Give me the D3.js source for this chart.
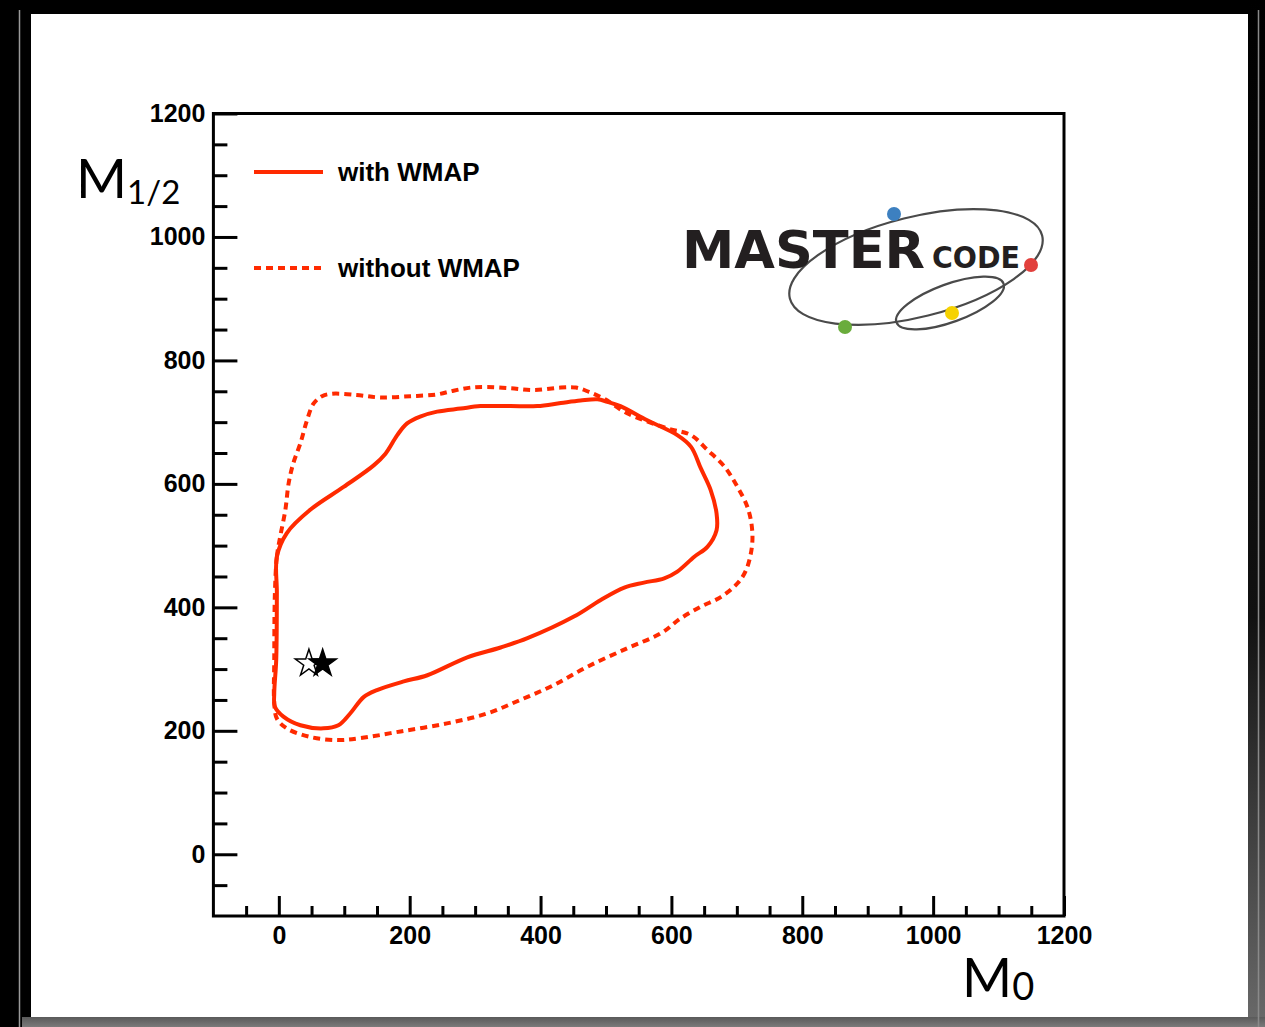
<!DOCTYPE html>
<html>
<head>
<meta charset="utf-8">
<script src="https://cdn.jsdelivr.net/npm/d3@7"></script>
<style>
  html, body { margin: 0; padding: 0; background: #000; }
  svg { display: block; }
</style>
</head>
<body>
<div id="chart"></div>
<script>
// contour with WMAP (M0, M1/2)
var withWmapM0  = [-3, -3, 12, 48, 99, 145, 163, 181, 196, 216, 242, 278, 308, 354, 395, 431, 461, 487, 502, 522, 563, 609, 630, 645, 660, 669, 669, 655, 635, 609, 589, 558, 528, 492, 451, 380, 339, 288, 227, 191, 150, 130, 109, 91, 68, 33, 7, -6, -7, -4];
var withWmapM12 = [423, 482, 520, 558, 595, 630, 649, 679, 698, 709, 717, 722, 726, 726, 726, 731, 735, 737, 733, 726, 703, 679, 660, 625, 590, 552, 525, 498, 482, 458, 447, 440, 432, 412, 385, 350, 335, 319, 290, 280, 266, 255, 228, 209, 204, 209, 223, 239, 261, 315];

// contour without WMAP
var noWmapM0  = [-6, -3, 2, 10, 15, 22, 33, 43, 53, 66, 81, 119, 155, 201, 242, 267, 293, 318, 354, 390, 431, 454, 474, 497, 533, 594, 630, 655, 681, 701, 716, 723, 723, 714, 701, 676, 645, 614, 584, 533, 472, 420, 369, 318, 257, 186, 124, 89, 48, 12, -3, -7, -7];
var noWmapM12 = [423, 482, 514, 558, 601, 633, 666, 703, 730, 742, 746, 744, 740, 742, 745, 751, 756, 757, 755, 752, 756, 756, 749, 738, 714, 690, 679, 655, 628, 595, 563, 530, 498, 460, 439, 417, 401, 382, 358, 334, 304, 274, 250, 228, 212, 199, 188, 185, 190, 204, 220, 245, 315];

// best-fit points
var bestFitM0 = [46, 67];
var bestFitM12 = [309, 309];
var bestFitFilled = [false, true];

var majorTicks = [0, 200, 400, 600, 800, 1000, 1200];
var legendLabels = ['with WMAP', 'without WMAP'];

var W = 1265, H = 1027;
var red = '#ff2a00';

var svg = d3.select('#chart').append('svg')
  .attr('width', W).attr('height', H);

// dark frame with grey shadow along the bottom
var defs = svg.append('defs');
var g1 = defs.append('linearGradient').attr('id', 'shadowB').attr('x1', 0).attr('x2', 0).attr('y1', 0).attr('y2', 1);
g1.append('stop').attr('offset', 0).attr('stop-color', '#5a5a5a');
g1.append('stop').attr('offset', 1).attr('stop-color', '#7a7a7a');
var g2 = defs.append('linearGradient').attr('id', 'shadowR').attr('x1', 0).attr('x2', 0).attr('y1', 0).attr('y2', 1);
g2.append('stop').attr('offset', 0).attr('stop-color', '#000');
g2.append('stop').attr('offset', 0.6).attr('stop-color', '#111');
g2.append('stop').attr('offset', 1).attr('stop-color', '#6a6a6a');

svg.append('rect').attr('width', W).attr('height', H).attr('fill', '#000');
svg.append('rect').attr('x', 1248).attr('y', 0).attr('width', 17).attr('height', H).attr('fill', 'url(#shadowR)');
svg.append('rect').attr('x', 22).attr('y', 1017).attr('width', 1243).attr('height', 10).attr('fill', 'url(#shadowB)');
svg.append('line').attr('x1', 19.5).attr('x2', 19.5).attr('y1', 10).attr('y2', H).attr('stroke', '#9a9a9a').attr('stroke-width', 1.5);
svg.append('line').attr('x1', 1258.5).attr('x2', 1258.5).attr('y1', 10).attr('y2', H).attr('stroke', '#8a8a8a').attr('stroke-width', 1.5);
svg.append('rect').attr('x', 31).attr('y', 14).attr('width', 1217).attr('height', 1003).attr('fill', '#fff');

// plot area (pL/pR/pT/pB: "top" is taken by window.top)
var pL = 213.4, pR = 1064, pT = 113.5, pB = 916;
var x = d3.scaleLinear().domain([-100, 1200]).range([pL, pR]);
var y = d3.scaleLinear().domain([-100, 1200]).range([pB, pT]);

var minorTicks = d3.range(-50, 1201, 50).filter(function (d) { return d % 200 !== 0; });

var tickFont = 'Liberation Sans, Arial, Helvetica, sans-serif';

function styleAxis(g) {
  g.select('.domain').remove();
  g.selectAll('.tick line').attr('stroke', '#000').attr('stroke-width', 3);
  g.selectAll('.tick text').attr('fill', '#000')
    .style('font-family', tickFont).style('font-size', '25px').style('font-weight', 'bold');
}

svg.append('g').attr('transform', 'translate(' + pL + ',0)')
  .call(d3.axisLeft(y).tickValues(minorTicks).tickSize(-14).tickFormat(''))
  .call(styleAxis);
svg.append('g').attr('transform', 'translate(' + pL + ',0)')
  .call(d3.axisLeft(y).tickValues(majorTicks).tickSize(-24).tickPadding(8).tickFormat(d3.format('d')))
  .call(styleAxis);
svg.append('g').attr('transform', 'translate(0,' + pB + ')')
  .call(d3.axisBottom(x).tickValues(minorTicks).tickSize(-10).tickFormat(''))
  .call(styleAxis);
svg.append('g').attr('transform', 'translate(0,' + pB + ')')
  .call(d3.axisBottom(x).tickValues(majorTicks).tickSize(-20).tickPadding(10).tickFormat(d3.format('d')))
  .call(styleAxis);

// frame of the plot
svg.append('rect')
  .attr('x', pL).attr('y', pT)
  .attr('width', pR - pL).attr('height', pB - pT)
  .attr('fill', 'none').attr('stroke', '#000').attr('stroke-width', 3);

// contours
var line = d3.line()
  .x(function (d) { return x(d[0]); })
  .y(function (d) { return y(d[1]); })
  .curve(d3.curveCatmullRomClosed.alpha(0.5));

var withPts = d3.zip(withWmapM0, withWmapM12);
var noPts = d3.zip(noWmapM0, noWmapM12);

svg.append('path').datum(noPts)
  .attr('d', line).attr('fill', 'none').attr('stroke', red)
  .attr('stroke-width', 4).attr('stroke-dasharray', '7,5');
svg.append('path').datum(withPts)
  .attr('d', line).attr('fill', 'none').attr('stroke', red)
  .attr('stroke-width', 4);

// best-fit stars
var star = d3.symbol().type(d3.symbolStar).size(230);
svg.selectAll('.star')
  .data(d3.range(bestFitM0.length))
  .enter().append('path')
  .attr('class', 'star')
  .attr('d', star)
  .attr('transform', function (i) { return 'translate(' + x(bestFitM0[i]) + ',' + y(bestFitM12[i]) + ')'; })
  .attr('fill', function (i) { return bestFitFilled[i] ? '#000' : '#fff'; })
  .attr('stroke', '#000').attr('stroke-width', 1.5);

// legend
var legend = svg.append('g').attr('transform', 'translate(254,172)');
legendLabels.forEach(function (lab, i) {
  var row = legend.append('g').attr('transform', 'translate(0,' + (i * 96) + ')');
  row.append('line').attr('x1', 0).attr('x2', 69).attr('y1', 0).attr('y2', 0)
    .attr('stroke', red).attr('stroke-width', 4)
    .attr('stroke-dasharray', i === 1 ? '7,5' : null);
  row.append('text').attr('x', 84).attr('y', 9)
    .style('font-family', tickFont).style('font-size', '26px').style('font-weight', 'bold')
    .text(lab);
});

// axis titles
var titleFont = 'Lato, "Open Sans", sans-serif';
var yt = svg.append('text').attr('x', 76).attr('y', 198)
  .style('font-family', titleFont).style('font-size', '55px');
yt.append('tspan').text('M');
yt.append('tspan').attr('dy', 6).style('font-size', '33px').text('1/2');

var xt = svg.append('text').attr('x', 962).attr('y', 997)
  .style('font-family', titleFont).style('font-size', '54px');
xt.append('tspan').text('M');
xt.append('tspan').attr('dy', 3).style('font-size', '38px').text('0');

// MasterCode logo
var logo = svg.append('g');
logo.append('ellipse').attr('cx', 0).attr('cy', 0).attr('rx', 130).attr('ry', 50)
  .attr('transform', 'translate(916,267) rotate(-14)')
  .attr('fill', 'none').attr('stroke', '#4a4a4a').attr('stroke-width', 2.2);
logo.append('ellipse').attr('cx', 0).attr('cy', 0).attr('rx', 57).attr('ry', 19)
  .attr('transform', 'translate(950,303) rotate(-20)')
  .attr('fill', 'none').attr('stroke', '#4a4a4a').attr('stroke-width', 2.2);
logo.append('text').attr('x', 682).attr('y', 268)
  .attr('textLength', 243).attr('lengthAdjust', 'spacingAndGlyphs')
  .style('font-family', 'DejaVu Sans, sans-serif').style('font-size', '52px').style('font-weight', 'bold')
  .attr('fill', '#231f20').text('MASTER');
logo.append('text').attr('x', 932).attr('y', 268)
  .attr('textLength', 88).attr('lengthAdjust', 'spacingAndGlyphs')
  .style('font-family', 'DejaVu Sans, sans-serif').style('font-size', '31px').style('font-weight', 'bold')
  .attr('fill', '#231f20').text('CODE');
var dots = [[894, 214, '#3d80c0'], [1031, 265, '#e2403c'], [845, 327, '#6aac3c'], [952, 313, '#f6d200']];
logo.selectAll('circle').data(dots).enter().append('circle')
  .attr('cx', function (d) { return d[0]; }).attr('cy', function (d) { return d[1]; })
  .attr('r', 7).attr('fill', function (d) { return d[2]; });
</script>
</body>
</html>
